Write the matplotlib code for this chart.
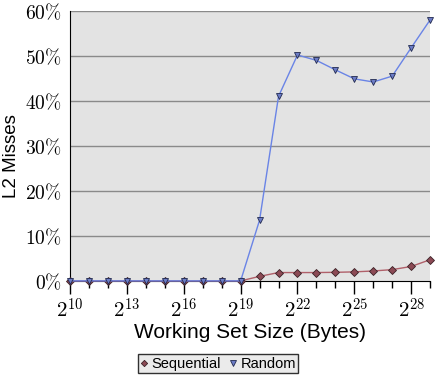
import numpy as np
import matplotlib
matplotlib.use("Agg")
import matplotlib.pyplot as plt
from matplotlib.ticker import FixedLocator, FuncFormatter

# -------------------------
# DATA
# -------------------------
exponents = list(range(10, 30))
sequential = [0, 0, 0, 0, 0, 0, 0, 0, 0, 0,
              1.0, 1.85, 1.85, 1.85, 1.9, 2.0, 2.2, 2.5, 3.2, 4.7]
random_acc = [0, 0, 0, 0, 0, 0, 0, 0, 0, 0,
              13.5, 41.0, 50.2, 49.0, 46.9, 44.9, 44.2, 45.5, 51.8, 58.0]
y_ticks = [0, 10, 20, 30, 40, 50, 60]
x_major = [10, 13, 16, 19, 22, 25, 28]

plt.rcParams["mathtext.fontset"] = "cm"
plt.rcParams["font.family"] = ["Liberation Sans", "DejaVu Sans"]

fig = plt.figure(figsize=(4.38, 3.75), dpi=100)
ax = fig.add_axes([0.16, 0.251, 0.822, 0.72])
ax.set_facecolor("#e3e3e3")

# -------------------------
# LINES
# -------------------------
ax.plot(exponents, sequential, color="#b0606a", lw=1.0, marker="D",
        markersize=4, markerfacecolor="#8c4a55", markeredgecolor="#3a2025",
        markeredgewidth=0.6, label="Sequential", zorder=3, clip_on=False)
ax.plot(exponents, random_acc, color="#6a84e6", lw=1.0, marker="v",
        markersize=5, markerfacecolor="#6c7cc6", markeredgecolor="#222a50",
        markeredgewidth=0.6, label="Random", zorder=4, clip_on=False)

# -------------------------
# AXES
# -------------------------
ax.set_xlim(10, 29)
ax.set_ylim(0, 60)
ax.set_yticks(y_ticks)
ax.yaxis.set_major_formatter(FuncFormatter(lambda v, p: r"$%d\%%$" % v))
ax.xaxis.set_major_locator(FixedLocator(x_major))
ax.xaxis.set_minor_locator(FixedLocator(exponents))
ax.xaxis.set_major_formatter(FuncFormatter(lambda v, p: r"$2^{%d}$" % v))

for y in y_ticks[1:]:
    ax.axhline(y, color="#8a8a8a", lw=1.0, zorder=1)

ax.tick_params(axis="y", length=0, labelsize=14, pad=6)
ax.tick_params(axis="x", which="major", length=9, width=1.0,
               direction="out", labelsize=15, pad=3)
ax.tick_params(axis="x", which="minor", length=5, width=1.0, direction="out")

for s in ["top", "right"]:
    ax.spines[s].set_visible(False)
ax.spines["left"].set_color("black")
ax.spines["bottom"].set_color("black")

ax.set_xlabel("Working Set Size (Bytes)", fontsize=15, labelpad=1)
ax.set_ylabel("L2 Misses", fontsize=13.5)
ax.yaxis.set_label_coords(-0.14, 0.463)

leg = fig.legend(loc="lower center", bbox_to_anchor=(0.498, 0.0), ncol=2,
                 fontsize=10.5, frameon=True, fancybox=False, handlelength=0.5,
                 handletextpad=0.25, columnspacing=0.6, borderpad=0.15,
                 borderaxespad=0.15, markerscale=0.8)
leg.get_frame().set_edgecolor("black")
leg.get_frame().set_facecolor("#e6e6e6")
leg.get_frame().set_linewidth(1.0)
for h in leg.legend_handles:
    h.set_linestyle("none")

fig.savefig("out.png", dpi=100)
